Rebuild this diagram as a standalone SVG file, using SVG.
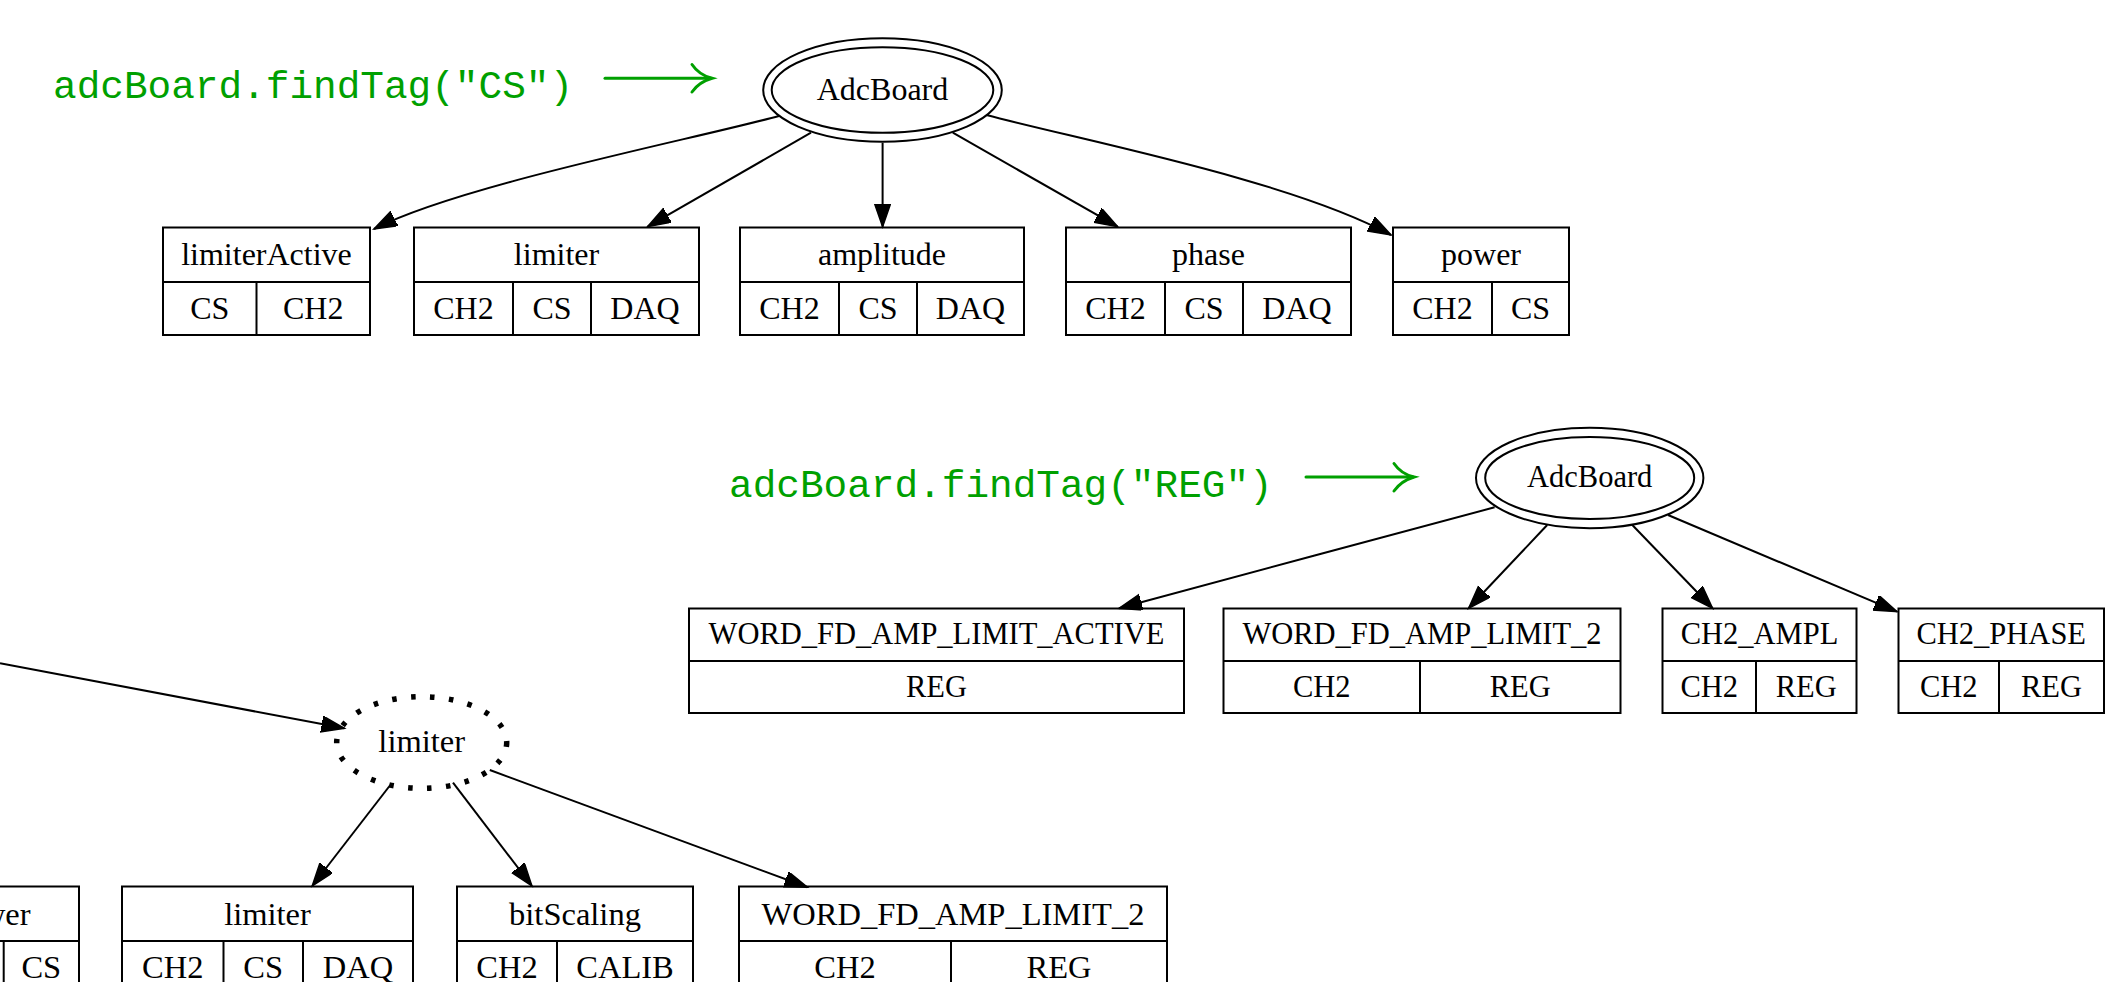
<svg xmlns="http://www.w3.org/2000/svg" width="2118" height="982" viewBox="0 0 2118 982">
<style>
  .box { fill: none; stroke: #000; stroke-width: 2; }
  .ln { stroke: #000; stroke-width: 2; fill: none; }
  .edge { stroke: #000; stroke-width: 2; fill: none; marker-end: url(#ah); }
  .t1 { font-family: "Liberation Serif", "Times New Roman", serif; font-size: 32px; text-anchor: middle; fill: #000; }
  .t2 { font-family: "Liberation Serif", "Times New Roman", serif; font-size: 30.5px; text-anchor: middle; fill: #000; }
  .t3 { font-family: "Liberation Serif", "Times New Roman", serif; font-size: 32.5px; text-anchor: middle; fill: #000; }
  .code { font-family: "Liberation Mono", "Courier New", monospace; font-size: 39.4px; fill: #00a000; }
  .garrow { stroke: #00a000; stroke-width: 3; fill: none; stroke-linecap: round; }
</style>
<defs>
  <marker id="ah" markerUnits="userSpaceOnUse" markerWidth="26" markerHeight="20" refX="23" refY="8" orient="auto" viewBox="0 0 26 20">
    <path d="M0,0 L23,8 L0,16 z" fill="#000" stroke="#000" stroke-width="1.5"/>
  </marker>
</defs>
<rect width="2118" height="982" fill="#fff"/>

<!-- Annotations -->
<g id="label-cs">
  <text class="code" x="53" y="98">adcBoard.findTag("CS")</text>
  <path class="garrow" d="M605,78.3 L711,78.3"/>
  <path class="garrow" d="M692,64.5 Q699,75 712,78.3 Q699,82 692,92"/>
</g>
<g id="label-reg">
  <text class="code" x="729" y="497">adcBoard.findTag("REG")</text>
  <path class="garrow" d="M1306,477 L1413,477"/>
  <path class="garrow" d="M1394,463.5 Q1401,474 1414,477 Q1401,481 1394,491"/>
</g>

<!-- Graph 1 -->
<g id="adcboard1">
  <ellipse class="box" cx="882.5" cy="90" rx="119.3" ry="51.7"/>
  <ellipse class="box" cx="882.5" cy="90" rx="110.8" ry="42.7"/>
  <text class="t1" x="882.5" y="100">AdcBoard</text>
</g>
<g id="limiterActive">
  <rect class="box" x="163" y="227.5" width="207" height="107.5"/>
  <line class="ln" x1="163" y1="282" x2="370" y2="282"/>
  <line class="ln" x1="256.5" y1="282" x2="256.5" y2="335"/>
  <text class="t1" x="266.5" y="265">limiterActive</text>
  <text class="t1" x="209.75" y="319">CS</text>
  <text class="t1" x="313.25" y="319">CH2</text>
</g>
<g id="limiter1">
  <rect class="box" x="414" y="227.5" width="285" height="107.5"/>
  <line class="ln" x1="414" y1="282" x2="699" y2="282"/>
  <line class="ln" x1="513" y1="282" x2="513" y2="335"/>
  <line class="ln" x1="591" y1="282" x2="591" y2="335"/>
  <text class="t1" x="556.5" y="265">limiter</text>
  <text class="t1" x="463.5" y="319">CH2</text>
  <text class="t1" x="552" y="319">CS</text>
  <text class="t1" x="645" y="319">DAQ</text>
</g>
<g id="amplitude">
  <rect class="box" x="740" y="227.5" width="284" height="107.5"/>
  <line class="ln" x1="740" y1="282" x2="1024" y2="282"/>
  <line class="ln" x1="839" y1="282" x2="839" y2="335"/>
  <line class="ln" x1="917" y1="282" x2="917" y2="335"/>
  <text class="t1" x="882" y="265">amplitude</text>
  <text class="t1" x="789.5" y="319">CH2</text>
  <text class="t1" x="878" y="319">CS</text>
  <text class="t1" x="970.5" y="319">DAQ</text>
</g>
<g id="phase">
  <rect class="box" x="1066" y="227.5" width="285" height="107.5"/>
  <line class="ln" x1="1066" y1="282" x2="1351" y2="282"/>
  <line class="ln" x1="1165" y1="282" x2="1165" y2="335"/>
  <line class="ln" x1="1243" y1="282" x2="1243" y2="335"/>
  <text class="t1" x="1208.5" y="265">phase</text>
  <text class="t1" x="1115.5" y="319">CH2</text>
  <text class="t1" x="1204" y="319">CS</text>
  <text class="t1" x="1297" y="319">DAQ</text>
</g>
<g id="power">
  <rect class="box" x="1393" y="227.5" width="176" height="107.5"/>
  <line class="ln" x1="1393" y1="282" x2="1569" y2="282"/>
  <line class="ln" x1="1492" y1="282" x2="1492" y2="335"/>
  <text class="t1" x="1481" y="265">power</text>
  <text class="t1" x="1442.5" y="319">CH2</text>
  <text class="t1" x="1530.5" y="319">CS</text>
</g>

<!-- Graph 2 -->
<g id="adcboard2">
  <ellipse class="box" cx="1589.7" cy="478" rx="113.7" ry="50.2"/>
  <ellipse class="box" cx="1589.7" cy="478" rx="104.5" ry="41"/>
  <text class="t2" x="1589.7" y="487">AdcBoard</text>
</g>
<g id="word_active">
  <rect class="box" x="689" y="608.5" width="495" height="104.5"/>
  <line class="ln" x1="689" y1="661" x2="1184" y2="661"/>
  <text class="t2" x="936.5" y="644">WORD_FD_AMP_LIMIT_ACTIVE</text>
  <text class="t2" x="936.5" y="697">REG</text>
</g>
<g id="word_2a">
  <rect class="box" x="1223.5" y="608.5" width="397" height="104.5"/>
  <line class="ln" x1="1223.5" y1="661" x2="1620.5" y2="661"/>
  <line class="ln" x1="1420" y1="661" x2="1420" y2="713"/>
  <text class="t2" x="1422" y="644">WORD_FD_AMP_LIMIT_2</text>
  <text class="t2" x="1321.75" y="697">CH2</text>
  <text class="t2" x="1520.25" y="697">REG</text>
</g>
<g id="ch2_ampl">
  <rect class="box" x="1662.5" y="608.5" width="194" height="104.5"/>
  <line class="ln" x1="1662.5" y1="661" x2="1856.5" y2="661"/>
  <line class="ln" x1="1756" y1="661" x2="1756" y2="713"/>
  <text class="t2" x="1759.5" y="644">CH2_AMPL</text>
  <text class="t2" x="1709.25" y="697">CH2</text>
  <text class="t2" x="1806.25" y="697">REG</text>
</g>
<g id="ch2_phase">
  <rect class="box" x="1898.5" y="608.5" width="205.5" height="104.5"/>
  <line class="ln" x1="1898.5" y1="661" x2="2104" y2="661"/>
  <line class="ln" x1="1999" y1="661" x2="1999" y2="713"/>
  <text class="t2" x="2001.25" y="644">CH2_PHASE</text>
  <text class="t2" x="1948.75" y="697">CH2</text>
  <text class="t2" x="2051.5" y="697">REG</text>
</g>

<!-- Graph 3 -->
<g id="limiter_dotted">
  <ellipse cx="421.7" cy="742.5" rx="85" ry="45.8" fill="none" stroke="#000" stroke-width="5.5" stroke-dasharray="4.5 14.5"/>
  <text class="t3" x="421.7" y="752">limiter</text>
</g>
<g id="power_partial">
  <rect class="box" x="-97" y="886.5" width="176" height="112"/>
  <line class="ln" x1="-97" y1="941" x2="79" y2="941"/>
  <line class="ln" x1="3.7" y1="941" x2="3.7" y2="998"/>
  <text class="t3" x="-10" y="925">power</text>
  <text class="t3" x="41.3" y="978">CS</text>
</g>
<g id="limiter2">
  <rect class="box" x="122" y="886.5" width="291" height="112"/>
  <line class="ln" x1="122" y1="941" x2="413" y2="941"/>
  <line class="ln" x1="223.5" y1="941" x2="223.5" y2="998"/>
  <line class="ln" x1="303" y1="941" x2="303" y2="998"/>
  <text class="t3" x="267.5" y="925">limiter</text>
  <text class="t3" x="172.75" y="978">CH2</text>
  <text class="t3" x="263.25" y="978">CS</text>
  <text class="t3" x="358" y="978">DAQ</text>
</g>
<g id="bitScaling">
  <rect class="box" x="457" y="886.5" width="236" height="112"/>
  <line class="ln" x1="457" y1="941" x2="693" y2="941"/>
  <line class="ln" x1="557" y1="941" x2="557" y2="998"/>
  <text class="t3" x="575" y="925">bitScaling</text>
  <text class="t3" x="507" y="978">CH2</text>
  <text class="t3" x="625" y="978">CALIB</text>
</g>
<g id="word_2b">
  <rect class="box" x="739" y="886.5" width="428" height="112"/>
  <line class="ln" x1="739" y1="941" x2="1167" y2="941"/>
  <line class="ln" x1="951" y1="941" x2="951" y2="998"/>
  <text class="t3" x="953" y="925">WORD_FD_AMP_LIMIT_2</text>
  <text class="t3" x="845" y="978">CH2</text>
  <text class="t3" x="1059" y="978">REG</text>
</g>

<!-- Connectors -->
<g id="connectors">
  <path class="edge" d="M779,116 C690,140 460,185 374,229"/>
  <path class="edge" d="M811,132.7 L647.6,226.7"/>
  <path class="edge" d="M882.6,142.7 L882.6,226.7"/>
  <path class="edge" d="M952.8,132.7 L1117.6,226.7"/>
  <path class="edge" d="M986.4,115 C1080,140 1290,180 1391,235"/>

  <path class="edge" d="M1494.6,507.3 C1380,538 1230,578 1119,608.3"/>
  <path class="edge" d="M1547.2,525 L1468.6,608.3"/>
  <path class="edge" d="M1632.3,525 L1712.6,608.3"/>
  <path class="edge" d="M1668,515 L1897,611.7"/>

  <path class="edge" d="M0,663.3 L344.4,728.3"/>
  <path class="edge" d="M390.3,785 L312.2,886"/>
  <path class="edge" d="M453,782.7 L531.9,886"/>
  <path class="edge" d="M489.8,770 L807.4,887.3"/>
</g>
</svg>
